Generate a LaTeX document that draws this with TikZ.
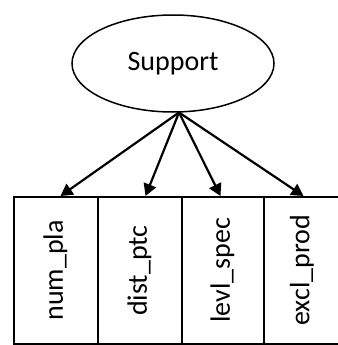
\documentclass[tikz,border=0pt]{standalone}
\usepackage{fontspec}
\setmainfont{Carlito}
\usetikzlibrary{shapes.geometric,arrows.meta}
\begin{document}
\begin{tikzpicture}[x=1pt,y=-1pt,
  lbl/.style={font=\fontsize{28}{32}\selectfont},
  field/.style={draw,line width=2pt,minimum height=147pt,inner sep=0pt,anchor=north west,lbl},
  arr/.style={line width=2.2pt,-{Triangle[length=12pt,width=13pt]}}]
\useasboundingbox (0,0) rectangle (337,345);
\node[ellipse,draw,line width=1.5pt,minimum width=202pt,minimum height=97pt,inner sep=0pt,lbl] (sup) at (173,63.5) {Support};
\node[field,minimum width=84pt] (b1) at (12.5,196) {\rotatebox{90}{num\_pla}};
\node[field,minimum width=84pt] (b2) at (96.5,196) {\rotatebox{90}{dist\_ptc}};
\node[field,minimum width=82pt] (b3) at (180.5,196) {\rotatebox{90}{levl\_spec}};
\node[field,minimum width=77pt] (b4) at (262.5,196) {\rotatebox{90}{excl\_prod}};
\coordinate (o) at (179,112.5);
\draw[arr] (o) -- ([xshift=5pt]b1.north);
\draw[arr] (o) -- ([xshift=6pt]b2.north);
\draw[arr] (o) -- ([xshift=-2pt]b3.north);
\draw[arr] (o) -- ([xshift=1.5pt]b4.north);
\end{tikzpicture}
\end{document}
